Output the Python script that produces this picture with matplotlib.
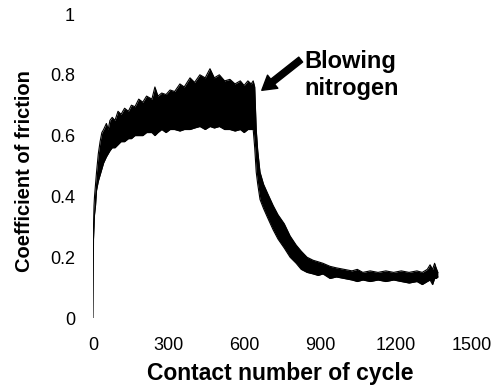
import matplotlib.pyplot as plt

# friction band: cycle number, upper and lower edge
cycle = [0, 2, 4, 6, 10, 14, 21, 28, 35, 42, 53, 60, 67, 76, 87, 99, 111,
         125, 140, 152, 166, 181, 197, 212, 233, 245, 257, 272, 289, 305, 323,
         344, 361, 384, 402, 423, 444, 463, 480, 500, 521, 542, 562, 583, 598,
         613, 626, 634, 640, 646, 652, 661, 675, 691, 713, 732, 757, 780, 804,
         824, 847, 871, 891, 910, 938, 963, 994, 1025, 1046, 1068, 1097, 1128,
         1159, 1190, 1220, 1251, 1282, 1303, 1323, 1334, 1344, 1352, 1358, 1365]
cof_upper = [0.26, 0.30, 0.37, 0.40, 0.44, 0.48, 0.54, 0.58, 0.61, 0.62, 0.64,
             0.62, 0.65, 0.66, 0.65, 0.68, 0.67, 0.69, 0.68, 0.70, 0.695, 0.72,
             0.71, 0.73, 0.72, 0.76, 0.73, 0.74, 0.735, 0.75, 0.745, 0.77, 0.76,
             0.79, 0.775, 0.80, 0.79, 0.82, 0.79, 0.80, 0.78, 0.785, 0.77, 0.78,
             0.765, 0.78, 0.77, 0.78, 0.76, 0.62, 0.55, 0.48, 0.44, 0.41, 0.37,
             0.34, 0.31, 0.27, 0.24, 0.22, 0.20, 0.19, 0.185, 0.18, 0.17, 0.165,
             0.16, 0.155, 0.16, 0.15, 0.155, 0.15, 0.155, 0.15, 0.155, 0.15,
             0.155, 0.15, 0.16, 0.175, 0.16, 0.18, 0.165, 0.15]
cof_lower = [0.00, 0.26, 0.30, 0.34, 0.37, 0.42, 0.45, 0.47, 0.49, 0.51, 0.53,
             0.54, 0.55, 0.56, 0.56, 0.57, 0.58, 0.58, 0.59, 0.59, 0.60, 0.60,
             0.60, 0.61, 0.61, 0.60, 0.61, 0.62, 0.61, 0.62, 0.62, 0.615, 0.62,
             0.62, 0.625, 0.63, 0.62, 0.63, 0.625, 0.63, 0.62, 0.62, 0.615, 0.62,
             0.61, 0.62, 0.62, 0.62, 0.56, 0.48, 0.44, 0.39, 0.36, 0.33, 0.29,
             0.26, 0.23, 0.20, 0.18, 0.16, 0.15, 0.145, 0.14, 0.145, 0.13, 0.135,
             0.13, 0.125, 0.12, 0.125, 0.12, 0.125, 0.12, 0.125, 0.12, 0.115,
             0.12, 0.11, 0.12, 0.125, 0.11, 0.13, 0.13, 0.135]

x_ticks = [0, 300, 600, 900, 1200, 1500]
y_ticks = [0, 0.2, 0.4, 0.6, 0.8, 1]
y_tick_labels = ["0", "0.2", "0.4", "0.6", "0.8", "1"]

note_text = "Blowing\nnitrogen"
note_tip = (668, 0.749)
note_tail = (822, 0.85)

fig = plt.figure(figsize=(5, 3.89), dpi=100)
ax = fig.add_axes([0.186, 0.1825, 0.758, 0.7815])

ax.fill_between(cycle, cof_lower, cof_upper, color="black", linewidth=0)
ax.plot(cycle, cof_upper, color="black", linewidth=0.8)
ax.plot(cycle, cof_lower, color="black", linewidth=0.8)

ax.set_xlim(0, 1500)
ax.set_ylim(0, 1)
ax.set_xticks(x_ticks)
ax.set_yticks(y_ticks)
ax.set_yticklabels(y_tick_labels)
for side in ["top", "right", "bottom", "left"]:
    ax.spines[side].set_visible(False)
ax.tick_params(length=0, labelsize=13)
ax.tick_params(axis="y", pad=13)
ax.tick_params(axis="x", pad=14)
for lab in ax.get_xticklabels() + ax.get_yticklabels():
    lab.set_family("Liberation Sans")

ax.set_xlabel("Contact number of cycle", family="Liberation Sans",
              fontweight="bold", fontsize=16.5)
ax.set_ylabel("Coefficient of friction", family="Liberation Sans",
              fontweight="bold", fontsize=14.5)
ax.xaxis.set_label_coords(0.493, -0.145)
ax.yaxis.set_label_coords(-0.155, 0.484)

ax.annotate("", xy=note_tip, xytext=note_tail,
            arrowprops=dict(arrowstyle="simple,head_width=1.2,head_length=1.0,tail_width=0.45",
                            color="black", shrinkA=0, shrinkB=0))
ax.text(835, 0.80, note_text, family="Liberation Sans", fontweight="bold",
        fontsize=17, ha="left", va="center", linespacing=1.25)

plt.savefig("out.png", dpi=100)
plt.close()
